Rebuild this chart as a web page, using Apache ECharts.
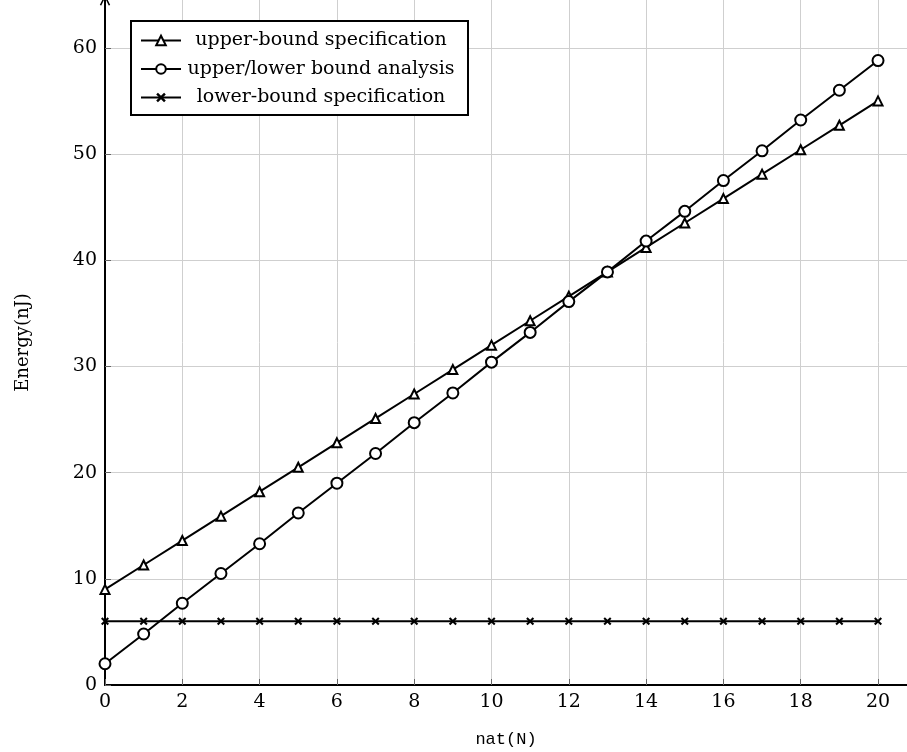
<!DOCTYPE html>
<html>
<head>
<meta charset="utf-8">
<script src="https://cdn.jsdelivr.net/npm/echarts@6/dist/echarts.min.js"></script>
<style>html,body{margin:0;padding:0;background:#fff;}#c{width:907px;height:752px;}</style>
</head>
<body>
<div id="c"></div>
<script>
var xValues = [0,1,2,3,4,5,6,7,8,9,10,11,12,13,14,15,16,17,18,19,20];
var upperSpec = [9.0,11.3,13.6,15.9,18.2,20.5,22.8,25.1,27.4,29.7,32.0,34.3,36.6,38.9,41.2,43.5,45.8,48.1,50.4,52.7,55.0];
var analysis = [2.0,4.8,7.7,10.5,13.3,16.2,19.0,21.8,24.7,27.5,30.4,33.2,36.1,38.9,41.8,44.6,47.5,50.3,53.2,56.0,58.8];
var lowerSpec = [6,6,6,6,6,6,6,6,6,6,6,6,6,6,6,6,6,6,6,6,6];
var seriesNames = ['upper-bound specification','upper/lower bound analysis','lower-bound specification'];
var xTitle = 'nat(N)';
var yTitle = 'Energy(nJ)';

function pairs(ys){ return xValues.map(function(x,i){ return [x, ys[i]]; }); }

var serif = 'DejaVu Serif';
var arrowPath = 'path://M0,10 L5,0 L10,10 L8.6,10.6 L5,3.2 L1.4,10.6 Z';
var crossPath = 'path://M1.8,0 L5,3.2 L8.2,0 L10,1.8 L6.8,5 L10,8.2 L8.2,10 L5,6.8 L1.8,10 L0,8.2 L3.2,5 L0,1.8 Z';

var chart = echarts.init(document.getElementById('c'), null, {renderer:'canvas'});
chart.setOption({
  animation: false,
  backgroundColor: '#fff',
  grid: {left:105, right:0, top:0, bottom:67, containLabel:false, outerBoundsMode:'none'},
  legend: {
    left: 131, top: 21, orient: 'vertical',
    backgroundColor: '#fff',
    borderColor: '#000', borderWidth: 2, borderRadius: 0,
    padding: [9, 12, 7, 9],
    itemWidth: 40, itemHeight: 12, itemGap: 7.5,
    data: seriesNames,
    formatter: '{a|{name}}',
    textStyle: {
      color:'#000', fontFamily: serif, fontSize: 19, lineHeight: 21,
      rich: {a: {width: 270, align: 'center', fontFamily: serif, fontSize: 19, lineHeight: 21, color:'#000'}}
    }
  },
  xAxis: {
    type: 'value', min: 0, max: 20.75, interval: 2,
    name: xTitle, nameLocation: 'middle', nameGap: 46,
    nameTextStyle: {fontFamily: 'Liberation Mono', fontSize: 17, color:'#000'},
    axisLine: {show:true, onZero:false, lineStyle:{color:'#000', width:2}},
    axisTick: {show:true, inside:true, length:6, lineStyle:{color:'#666', width:1}},
    axisLabel: {color:'#000', fontFamily: serif, fontSize: 19, margin: 8, showMaxLabel:false},
    splitLine: {show:true, showMinLine:false, showMaxLine:false, lineStyle:{color:'#cfcfcf', width:1}}
  },
  yAxis: {
    type: 'value', min: 0, max: 64.5, interval: 10,
    name: yTitle, nameLocation: 'middle', nameGap: 73,
    nameTextStyle: {fontFamily: serif, fontSize: 18, color:'#000'},
    axisLine: {show:true, onZero:false, symbol:['none', arrowPath], symbolSize:[11,11], lineStyle:{color:'#000', width:2}},
    axisTick: {show:true, inside:true, length:6, lineStyle:{color:'#666', width:1}},
    axisLabel: {color:'#000', fontFamily: serif, fontSize: 19, margin: 8, showMaxLabel:false},
    splitLine: {show:true, showMinLine:false, showMaxLine:false, lineStyle:{color:'#cfcfcf', width:1}}
  },
  series: [
    {
      name: seriesNames[0], type: 'line', data: pairs(upperSpec),
      symbol: 'emptyTriangle', symbolSize: 9, showAllSymbol: true,
      lineStyle: {color:'#000', width:2},
      itemStyle: {color:'#000', borderColor:'#000', borderWidth:3}
    },
    {
      name: seriesNames[1], type: 'line', data: pairs(analysis),
      symbol: 'emptyCircle', symbolSize: 11, showAllSymbol: true,
      lineStyle: {color:'#000', width:2},
      itemStyle: {color:'#000', borderColor:'#000', borderWidth:2}
    },
    {
      name: seriesNames[2], type: 'line', data: pairs(lowerSpec),
      symbol: crossPath, symbolSize: 8, showAllSymbol: true,
      lineStyle: {color:'#000', width:2},
      itemStyle: {color:'#000', borderWidth:0}
    }
  ]
});
</script>
</body>
</html>
